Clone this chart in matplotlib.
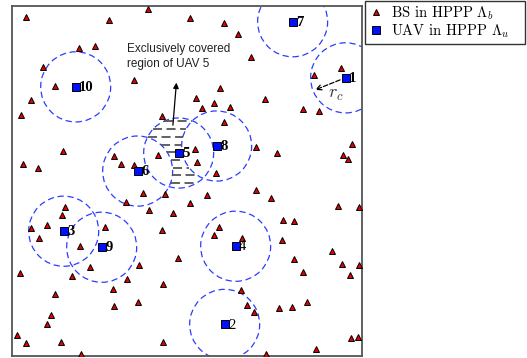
import numpy as np
import matplotlib
matplotlib.use('Agg')
import matplotlib.pyplot as plt
from matplotlib.patches import Circle
from matplotlib.lines import Line2D

plt.rcParams['font.family'] = 'serif'
plt.rcParams['font.serif'] = ['Liberation Serif', 'DejaVu Serif']
plt.rcParams['mathtext.fontset'] = 'cm'
plt.rcParams['axes.formatter.use_mathtext'] = True

# square area (m) and UAV coverage radius
side = 350
r_c = 35

# base stations (HPPP Lambda_b)
bs_x = [14, 97, 136, 67, 83, 31, 43, 122, 19, 9, 150, 51, 11, 26, 102, 109, 122, 146,
        178, 212, 226, 239, 208, 184, 202, 190, 218, 253, 212, 244, 265, 183, 185, 204,
        302, 329, 291, 307, 340, 331, 336,
        131, 153, 195,
        114, 137, 161, 53, 50, 19, 35, 27, 93, 150, 68, 78, 60, 8, 127, 115, 166, 101,
        151, 43, 126, 102, 39, 35, 5, 14, 49, 151, 69,
        178, 244, 259, 326, 347, 207, 202, 230, 271, 282, 270, 320, 282, 291, 330, 347,
        338, 229, 235, 242, 267, 280, 295, 339, 346, 304, 254]
bs_y = [339, 336, 347, 308, 310, 289, 270, 276, 256, 241, 240, 205, 192, 188, 200, 192, 191, 201,
        338, 333, 322, 299, 268, 258, 253, 248, 249, 257, 234, 209, 203, 207, 194, 183,
        281, 288, 247, 245, 212, 201, 197,
        163, 162, 161,
        154, 146, 143, 149, 141, 128, 131, 118, 129, 126, 110, 89, 80, 83, 91, 77, 98, 67,
        72, 62, 54, 50, 41, 32, 21, 13, 14, 14, 2,
        153, 166, 158, 150, 149, 129, 121, 118, 136, 135, 116, 105, 97, 84, 92, 91,
        81, 66, 51, 44, 48, 49, 54, 18, 19, 7, 2]

# UAVs (HPPP Lambda_u)
uav_id = [1, 2, 3, 4, 5, 6, 7, 8, 9, 10]
uav_x = [334, 213, 52, 224, 167, 126, 281, 205, 90, 64]
uav_y = [278, 32, 125, 110, 203, 185, 334, 210, 109, 269]
uav_bold = [True, False, True, False, True, True, True, True, True, True]

fig = plt.figure(figsize=(5.27, 3.58), dpi=100)
ax = fig.add_axes([0.0222, 0.0042, 0.664, 0.9799])

# coverage disks
for x, y in zip(uav_x, uav_y):
    ax.add_patch(Circle((x, y), r_c, fill=False, edgecolor='#2b3cff',
                        linestyle=(0, (5, 3)), linewidth=0.9, zorder=2))

# region covered only by UAV 5 (inside disk 5, outside disks 6 and 8)
k5, k6, k8 = uav_id.index(5), uav_id.index(6), uav_id.index(8)
cx, cy = uav_x[k5], uav_y[k5]
xs = np.linspace(cx - r_c, cx + r_c, 600)
for yr in np.arange(cy - r_c + 5, cy + r_c - 2, 7.7):
    inside = (xs - cx) ** 2 + (yr - cy) ** 2 < r_c ** 2
    for k in (k6, k8):
        inside &= (xs - uav_x[k]) ** 2 + (yr - uav_y[k]) ** 2 > r_c ** 2
    idx = np.flatnonzero(inside)
    if idx.size == 0:
        continue
    runs = np.split(idx, np.flatnonzero(np.diff(idx) > 1) + 1)
    for run in runs:
        ax.plot([xs[run[0]], xs[run[-1]]], [yr, yr], color='#555555', lw=1.3,
                linestyle=(0, (5, 2.5)), zorder=2)

ax.plot(bs_x, bs_y, '^', color='#e00000', markeredgecolor='black',
        markeredgewidth=0.7, markersize=4.8, linestyle='none', zorder=3)
ax.plot(uav_x, uav_y, 's', color='#0010ff', markeredgecolor='black',
        markeredgewidth=0.7, markersize=6.2, linestyle='none', zorder=4)

for i, x, y, b in zip(uav_id, uav_x, uav_y, uav_bold):
    ax.annotate(str(i), (x, y), xytext=(2.5, -0.5), textcoords='offset points',
                ha='left', va='center', fontsize=10.5,
                fontweight='bold' if b else 'normal', zorder=5)

# annotation for exclusive region
ax.text(115, 313, 'Exclusively covered\nregion of UAV 5', family='Liberation Sans',
        fontsize=8.5, ha='left', va='top', color='#222222', linespacing=1.35)
ax.annotate('', xy=(165, 276), xytext=(161, 228),
            arrowprops=dict(arrowstyle='-|>', color='black', lw=0.9,
                            mutation_scale=8))

# radius marker for UAV 1
k1 = uav_id.index(1)
ax.annotate('', xy=(301, 265), xytext=(uav_x[k1] - 3, uav_y[k1] - 1),
            arrowprops=dict(arrowstyle='->', color='black', lw=0.9,
                            linestyle='--', mutation_scale=9))
ax.text(316, 261, '$r_c$', fontsize=13, ha='left', va='center', color='#333333')

ax.set_xlim(0, side)
ax.set_ylim(0, side)
ax.set_xticks([])
ax.set_yticks([])
for s in ax.spines.values():
    s.set_color('#555555')
    s.set_linewidth(1.3)

handles = [Line2D([], [], marker='^', color='#e00000', markeredgecolor='black',
                  markeredgewidth=0.7, markersize=4.8, linestyle='none'),
           Line2D([], [], marker='s', color='#0010ff', markeredgecolor='black',
                  markeredgewidth=0.7, markersize=6, linestyle='none')]
leg = fig.legend(handles, [r'BS in HPPP $\Lambda_b$', r'UAV in HPPP $\Lambda_u$'],
                 loc='upper left', bbox_to_anchor=(0.693, 0.0, 0.303, 0.998),
                 mode='expand', prop={'family': 'cmr10', 'size': 10.5},
                 frameon=True, fancybox=False, edgecolor='#333333', framealpha=1,
                 handlelength=1.0, handletextpad=0.5, borderpad=0.25,
                 labelspacing=0.05, borderaxespad=0)
leg.get_frame().set_linewidth(1.0)

fig.savefig('out.png', dpi=100)
